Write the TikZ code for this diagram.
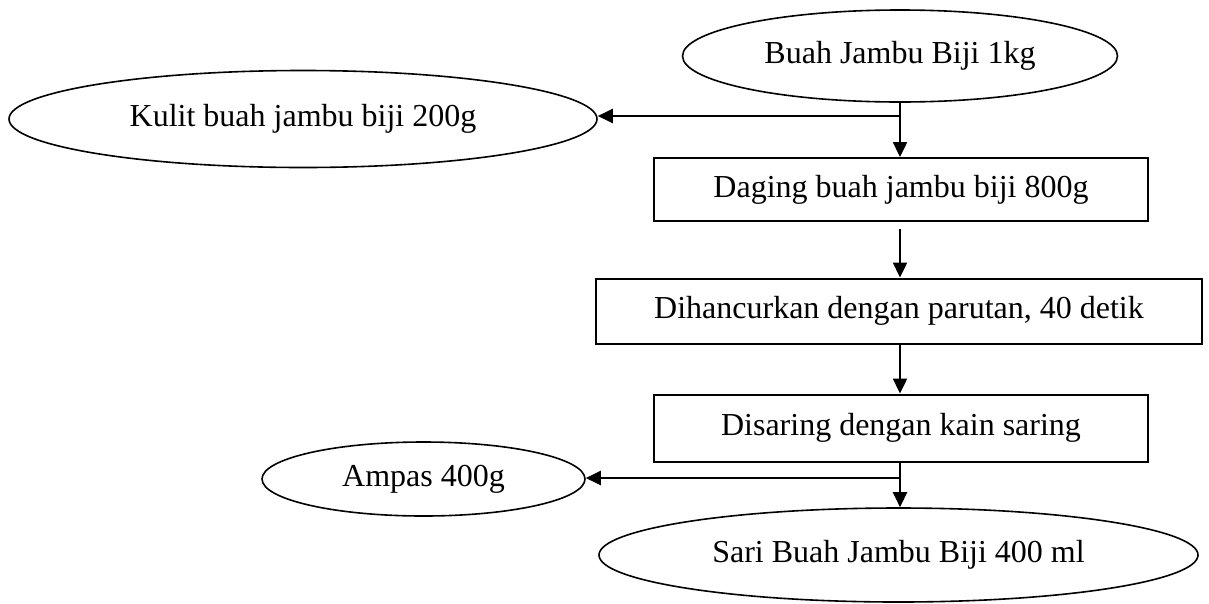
\documentclass[tikz,border=0pt]{standalone}
\usepackage{fontspec}
\setmainfont{Liberation Serif}
\usetikzlibrary{shapes.geometric,arrows.meta}
\tikzset{
  oval/.style={draw, ellipse, line width=1.6pt, inner sep=0pt, font=\fontsize{32}{38}\selectfont},
  procbox/.style={draw, rectangle, line width=2pt, inner sep=0pt, font=\fontsize{32}{38}\selectfont},
  flow/.style={line width=2.4pt, -{Triangle[length=15pt,width=14pt]}},
  plain/.style={line width=2.4pt}
}
\begin{document}
\begin{tikzpicture}[x=1pt,y=-1pt]
\useasboundingbox (0,0) rectangle (1209,603);
\node[oval, minimum width=435pt, minimum height=92pt] (top) at (900,56) {Buah Jambu Biji 1kg};
\node[oval, minimum width=588pt, minimum height=97pt] (kulit) at (303,119) {Kulit buah jambu biji 200g};
\node[procbox, minimum width=494pt, minimum height=63pt] (daging) at (901,189.5) {Daging buah jambu biji 800g};
\node[procbox, minimum width=606pt, minimum height=65pt] (hancur) at (899,311) {Dihancurkan dengan parutan, 40 detik};
\node[procbox, minimum width=494pt, minimum height=67pt] (saring) at (901,428) {Disaring dengan kain saring};
\node[oval, minimum width=323pt, minimum height=74pt] (ampas) at (423.5,479) {Ampas 400g};
\node[oval, minimum width=599pt, minimum height=94pt] (sari) at (898.5,555) {Sari Buah Jambu Biji 400 ml};
\coordinate (b1) at (900,116);
\coordinate (b2) at (900,478);
\draw[flow] (top.south -| b1) -- (b1 |- daging.north);
\draw[flow] (b1) -- (b1 -| kulit.east);
\draw[flow] ([yshift=-7pt]daging.south -| b1) -- (b1 |- hancur.north);
\draw[flow] (hancur.south -| b1) -- (b1 |- saring.north);
\draw[flow] (saring.south -| b2) -- (b2 |- sari.north);
\draw[flow] (b2) -- (b2 -| ampas.east);
\end{tikzpicture}
\end{document}
